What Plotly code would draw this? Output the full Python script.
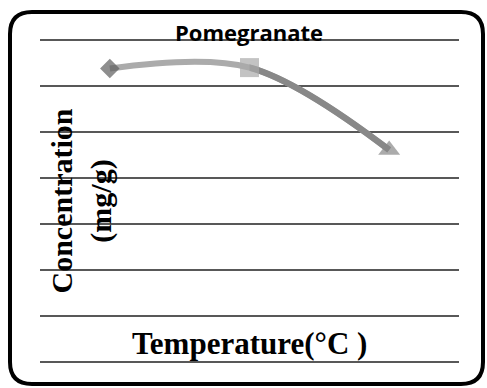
import plotly.graph_objects as go

# Pomegranate extract: concentration at three temperature levels (arbitrary units)
temperature_level = [1, 2, 3]
concentration = [6.38, 6.40, 4.61]

chart_title = "Pomegranate"
x_title = "Temperature(°C )"
y_title = "Concentration<br>(mg/g)"

W, H = 487, 388
# plot area in pixels
left, right, top, bottom = 40, 459, 40, 362
n_grid = 7            # gridline intervals
pad = 3               # keep edge gridlines inside the plot area
unit = (bottom - top) / n_grid

xd = [left / W, right / W]
yd = [(H - bottom - pad) / H, (H - top + pad) / H]
yr = [-pad / unit, n_grid + pad / unit]
xr = [0.5, len(temperature_level) + 0.5]

# second segment gets its own clipped axis so it can take a darker colour
split = temperature_level[1]
xd2 = [xd[0] + (xd[1] - xd[0]) * (split - xr[0]) / (xr[1] - xr[0]), xd[1]]
xr2 = [split, xr[1]]

light = "#ababab"
dark = "#888888"

fig = go.Figure()
fig.add_trace(go.Scatter(
    x=temperature_level, y=concentration, mode="lines",
    line=dict(color=light, width=6, shape="spline"),
    xaxis="x", yaxis="y", hoverinfo="skip", showlegend=False))
fig.add_trace(go.Scatter(
    x=temperature_level, y=concentration, mode="lines",
    line=dict(color=dark, width=6.5, shape="spline"),
    xaxis="x2", yaxis="y2", hoverinfo="skip", showlegend=False))
fig.add_trace(go.Scatter(
    x=temperature_level, y=concentration, mode="markers",
    marker=dict(symbol=["diamond", "square", "triangle-up"],
                size=[15, 19, 19],
                color=["#5e5e5e", "#aaaaaa", dark],
                line=dict(width=0)),
    xaxis="x3", yaxis="y3", showlegend=False))

hidden = dict(visible=False, showgrid=False, zeroline=False, fixedrange=True)
fig.update_layout(
    width=W, height=H,
    margin=dict(l=0, r=0, t=0, b=0),
    paper_bgcolor="white",
    plot_bgcolor="rgba(0,0,0,0)",
    xaxis=dict(domain=xd, range=xr, visible=False, showgrid=False, zeroline=False),
    yaxis=dict(domain=yd, range=yr, dtick=1, tick0=0, showgrid=True,
               gridcolor="#585858", gridwidth=1.5, zeroline=False,
               showticklabels=False, ticks="", showline=False, anchor="x"),
    xaxis2=dict(domain=xd2, range=xr2, anchor="y2", **hidden),
    yaxis2=dict(domain=yd, range=yr, anchor="x2", **hidden),
    xaxis3=dict(domain=xd, range=xr, anchor="y3", **hidden),
    yaxis3=dict(domain=yd, range=yr, anchor="x3", **hidden),
)

serif = "Liberation Serif"
fig.add_annotation(text="<b>" + chart_title + "</b>", xref="paper", yref="paper",
                   x=249 / W, y=(H - 32) / H, xanchor="center", yanchor="middle",
                   showarrow=False,
                   font=dict(family="Open Sans", size=22, color="black"))
fig.add_annotation(text="<b>" + x_title + "</b>", xref="paper", yref="paper",
                   x=250 / W, y=(H - 343) / H, xanchor="center", yanchor="middle",
                   showarrow=False, font=dict(family=serif, size=31, color="black"))
fig.add_annotation(text="<b>" + y_title + "</b>", xref="paper", yref="paper",
                   x=81.5 / W, y=(H - 201) / H, xanchor="center", yanchor="middle",
                   textangle=-90, showarrow=False,
                   font=dict(family=serif, size=30, color="black"))

# rounded chart frame
x0, x1, y0, y1, r = 10, 483, 12, 384, 22
def px(x, y):
    return f"{x / W:.5f},{1 - y / H:.5f}"
frame = (f"M{px(x0 + r, y0)} L{px(x1 - r, y0)} Q{px(x1, y0)} {px(x1, y0 + r)} "
         f"L{px(x1, y1 - r)} Q{px(x1, y1)} {px(x1 - r, y1)} "
         f"L{px(x0 + r, y1)} Q{px(x0, y1)} {px(x0, y1 - r)} "
         f"L{px(x0, y0 + r)} Q{px(x0, y0)} {px(x0 + r, y0)} Z")
fig.add_shape(type="path", path=frame, xref="paper", yref="paper",
              line=dict(color="black", width=4), layer="above")

fig.write_html("out.html")
